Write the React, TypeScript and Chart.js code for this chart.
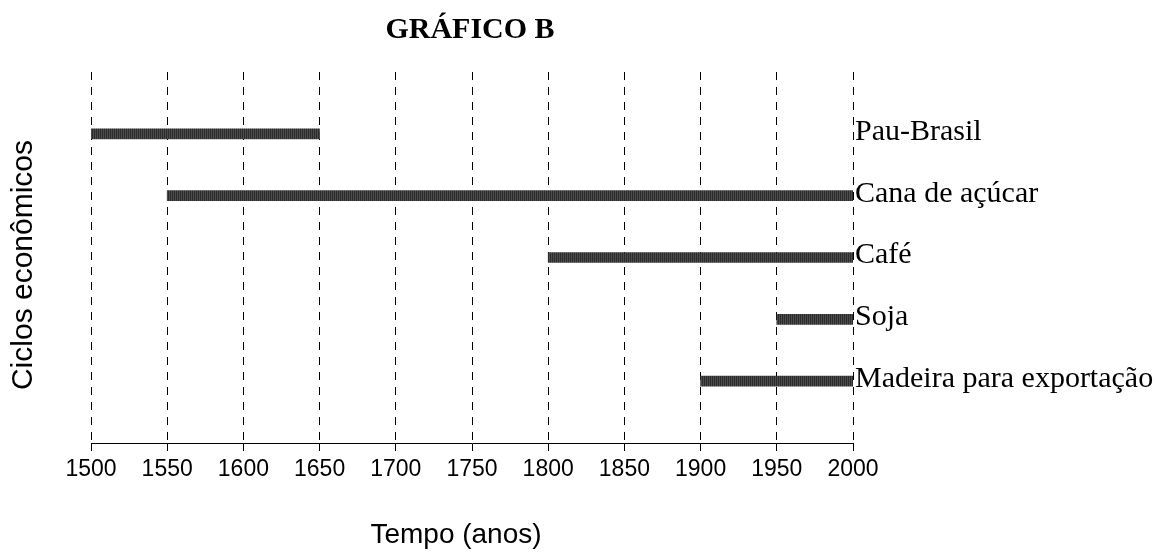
import React, { useEffect, useRef } from "react";
import { Chart, registerables } from "chart.js";

Chart.register(...registerables);

const categories = ["Pau-Brasil", "Cana de açúcar", "Café", "Soja", "Madeira para exportação"];
const startYears = [1500, 1550, 1800, 1950, 1900];
const endYears = [1650, 2000, 2000, 2000, 2000];
const xMin = 1500;
const xMax = 2000;
const xStep = 50;
const chartTitle = "GRÁFICO B";
const xTitle = "Tempo (anos)";
const yTitle = "Ciclos econômicos";

const SANS = "'Liberation Sans', Arial, sans-serif";
const SERIF = "'Liberation Serif', 'Times New Roman', serif";

function makePattern(): CanvasPattern | string {
  const c = document.createElement("canvas");
  c.width = 2;
  c.height = 1;
  const g = c.getContext("2d");
  if (!g) return "#3a3a3a";
  g.fillStyle = "#2c2c2c";
  g.fillRect(0, 0, 1, 1);
  g.fillStyle = "#4c4c4c";
  g.fillRect(1, 0, 1, 1);
  const p = g.createPattern(c, "repeat");
  return p || "#3a3a3a";
}

const textPlugin = {
  id: "textPlugin",
  afterDraw(chart: any) {
    const { ctx, chartArea, scales } = chart;
    const x = scales.x;
    const y = scales.y;
    ctx.save();
    ctx.fillStyle = "#000";
    ctx.font = `bold 30px ${SERIF}`;
    ctx.textAlign = "center";
    ctx.textBaseline = "alphabetic";
    ctx.fillText(chartTitle, (chartArea.left + chartArea.right) / 2 - 2, 38);
    ctx.font = `30px ${SERIF}`;
    ctx.textAlign = "left";
    ctx.textBaseline = "middle";
    categories.forEach((name, i) => {
      ctx.fillText(name, x.getPixelForValue(xMax) + 2, y.getPixelForValue(i + 1) - 2);
    });
    // x axis title
    ctx.font = `28px ${SANS}`;
    ctx.textAlign = "center";
    ctx.textBaseline = "middle";
    ctx.fillText(xTitle, 456, 535);
    // y axis title
    ctx.font = `30px ${SANS}`;
    ctx.translate(24, 265);
    ctx.rotate(-Math.PI / 2);
    ctx.textAlign = "center";
    ctx.textBaseline = "middle";
    ctx.fillText(yTitle, 0, 0);
    ctx.restore();
  },
};

export default function App() {
  const ref = useRef<HTMLCanvasElement | null>(null);

  useEffect(() => {
    if (!ref.current) return;
    const labels = ["", ...categories, ""];
    const data = [null, ...categories.map((_, i) => [startYears[i], endYears[i]]), null];
    const chart = new Chart(ref.current, {
      type: "bar",
      data: {
        labels,
        datasets: [
          {
            data: data as any,
            backgroundColor: makePattern() as any,
            borderWidth: 0,
            barThickness: 10,
          },
        ],
      },
      options: {
        animation: false,
        responsive: true,
        maintainAspectRatio: false,
        indexAxis: "y",
        layout: { padding: { top: 72, right: 306, left: 0, bottom: 0 } },
        plugins: {
          legend: { display: false },
          tooltip: { enabled: false },
          title: { display: false },
        },
        scales: {
          x: {
            type: "linear",
            min: xMin,
            max: xMax,
            afterFit: (s: any) => {
              s.height = 109;
            },
            ticks: {
              stepSize: xStep,
              color: "#000",
              font: { family: SANS, size: 23 },
              padding: 5,
              maxRotation: 0,
              autoSkip: false,
              callback: (v: any) => String(v),
            },
            grid: {
              color: "#000",
              lineWidth: 1,
              drawTicks: true,
              tickLength: 8,
              tickColor: "#000",
              tickBorderDash: [],
            },
            border: { display: true, color: "#000", width: 1, dash: [8, 7] },
            title: { display: false },
          },
          y: {
            type: "category",
            offset: false,
            afterFit: (s: any) => {
              s.width = 91;
            },
            ticks: { display: false },
            grid: { display: false },
            border: { display: false },
          },
        },
      } as any,
      plugins: [textPlugin],
    });
    return () => chart.destroy();
  }, []);

  return (
    <div style={{ position: "fixed", left: 0, top: 0, width: 1159, height: 552, background: "#fff" }}>
      <canvas ref={ref} />
    </div>
  );
}
